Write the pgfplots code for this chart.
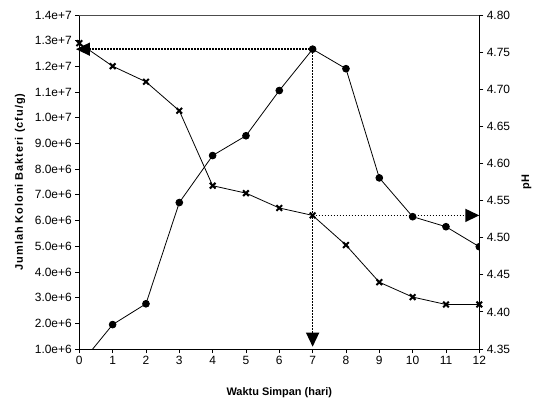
\documentclass[border=0pt]{standalone}
\usepackage{fontspec}
\setmainfont{Liberation Sans}
\usepackage{pgfplots}
\pgfplotsset{compat=1.18}
\usetikzlibrary{arrows.meta}

\pgfplotsset{
  base/.style={
    scale only axis, width=400bp, height=334bp,
    xmin=0, xmax=12,
    tick align=outside, major tick length=4bp,
    tick label style={font=\fontsize{12}{14}\selectfont},
    /pgf/number format/assume math mode=true,
    label style={font=\fontsize{11}{13}\selectfont\bfseries},
    axis line style={line width=0.8bp},
    tick style={line width=0.8bp, black},
    scaled y ticks=false,
  },
}
\tikzset{arr/.style={line width=1.5bp, dash pattern=on 1.5bp off 1.5bp,
    -{Triangle[length=14bp,width=13bp]}}}

\begin{document}
\begin{tikzpicture}
% bacteria count, left axis
\begin{axis}[base,
  axis x line*=bottom, axis y line*=left,
  ymin=1e6, ymax=1.4e7,
  xtick={0,1,...,12},
  ytick={1e6,2e6,3e6,4e6,5e6,6e6,7e6,8e6,9e6,1e7,1.1e7,1.2e7,1.3e7,1.4e7},
  yticklabels={1.0e+6,2.0e+6,3.0e+6,4.0e+6,5.0e+6,6.0e+6,7.0e+6,8.0e+6,9.0e+6,1.0e+7,1.1e+7,1.2e+7,1.3e+7,1.4e+7},
  xlabel={Waktu Simpan (hari)},
  ylabel={\addfontfeatures{LetterSpace=9}Jumlah Koloni Bakteri (cfu/g)},
  xlabel style={at={(axis description cs:0.5,-0.132)}, anchor=center},
  ylabel style={at={(axis description cs:-0.148,0.5)}, anchor=center},
  clip marker paths=true,
]
\addplot[black, line width=0.8bp, mark=*, mark size=3.4bp] coordinates {
  (0,3.6e5) (1,1.95e6) (2,2.76e6) (3,6.70e6) (4,8.53e6) (5,9.30e6) (6,1.106e7)
  (7,1.267e7) (8,1.191e7) (9,7.66e6) (10,6.15e6) (11,5.76e6) (12,4.98e6)
};
\coordinate (A) at (axis cs:7,1.267e7);
\coordinate (B) at (axis cs:-0.1,1.267e7);
\coordinate (C) at (axis cs:7,1.09e6);
\end{axis}
% pH, right axis
\begin{axis}[base,
  axis y line*=right, axis x line=none,
  ymin=4.35, ymax=4.80,
  ytick={4.35,4.40,4.45,4.50,4.55,4.60,4.65,4.70,4.75,4.80},
  yticklabels={4.35,4.40,4.45,4.50,4.55,4.60,4.65,4.70,4.75,4.80},
  ylabel={pH},
  ylabel style={at={(axis description cs:1.118,0.5)}, anchor=center},
  clip=false,
]
\draw[gray!60!black, line width=0.8bp] (rel axis cs:0,1) -- (rel axis cs:1,1);
\addplot[black, line width=0.8bp, mark=x, mark size=4bp,
  mark options={line width=2bp}] coordinates {
  (0,4.762) (1,4.731) (2,4.710) (3,4.671) (4,4.570) (5,4.560) (6,4.540)
  (7,4.530) (8,4.490) (9,4.440) (10,4.420) (11,4.410) (12,4.410)
};
\coordinate (D) at (axis cs:7,4.53);
\coordinate (E) at (axis cs:12,4.53);
\end{axis}
\draw[arr] (A) -- (B);
\draw[arr] (A) -- (C);
\draw[arr] (D) -- (E);
\path ([shift={(-79.3bp,-59bp)}]current axis.south west) rectangle ++(538bp,408bp);
\end{tikzpicture}
\end{document}
